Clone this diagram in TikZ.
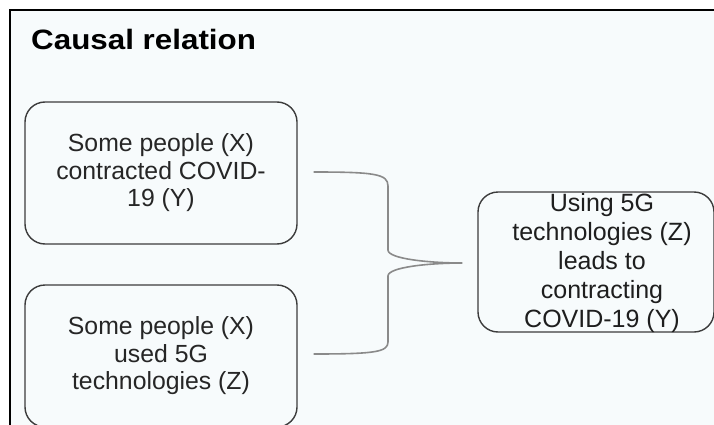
\documentclass[tikz,border=0pt]{standalone}
\usepackage{fontspec}
\setmainfont{Liberation Sans}
\usetikzlibrary{calc}
\definecolor{bgc}{HTML}{F7FBFC}
\definecolor{boxc}{HTML}{3C3C3C}
\definecolor{txtc}{HTML}{262626}
\definecolor{txtd}{HTML}{1E1E1E}
\definecolor{brc}{HTML}{8A8A8A}
\begin{document}
\begin{tikzpicture}[x=1pt,y=-1pt,
  box/.style={draw=boxc, line width=1.4pt, rounded corners=20pt, inner sep=0pt},
  lefttext/.style={align=center, text=txtc, inner sep=0pt, font=\fontsize{24.8}{27.5}\selectfont},
  righttext/.style={align=center, text=txtd, inner sep=0pt, font=\fontsize{25}{28.8}\selectfont},
  bracket/.style={draw=brc, line width=1.6pt}]
\useasboundingbox (0,0) rectangle (714,425);
\fill[white] (0,0) rectangle (714,425);
\fill[bgc] (10,10) rectangle (714,425);
\draw[line width=2pt] (10,426) -- (10,10) -- (715,10);

\node[anchor=base west, inner sep=0pt, font=\fontsize{28}{32}\selectfont\bfseries] (title) at (31,50) {\scalebox{1.12}[1]{Causal relation}};

\node[box, minimum width=272pt, minimum height=142pt] (b1) at (161,173) {};
\node[lefttext] (t1) at (b1.center) {Some people (X)\\contracted COVID-\\19 (Y)};

\node[box, minimum width=272pt, minimum height=142pt] (b2) at (161,356) {};
\node[lefttext] (t2) at (b2.center) {Some people (X)\\used 5G\\technologies (Z)};

\node[box, minimum width=236pt, minimum height=140pt] (b3) at (596,262) {};
\node[righttext] (t3) at (602,263) {Using 5G\\technologies (Z)\\leads to\\contracting\\COVID-19 (Y)};

\coordinate (s1) at ($(b1.east)+(16,-1)$);
\coordinate (s2) at ($(b2.east)+(16,-2)$);
\coordinate (tip) at ($(b3.west)+(-15,1)$);
\draw[bracket] (s1) .. controls (375,172) and (388,174) .. (388,186) -- (388,250)
  .. controls (388,259) and (430,263) .. (tip)
  .. controls (430,263) and (388,267) .. (388,276) -- (388,342)
  .. controls (388,352) and (375,354) .. (s2);
\end{tikzpicture}
\end{document}
